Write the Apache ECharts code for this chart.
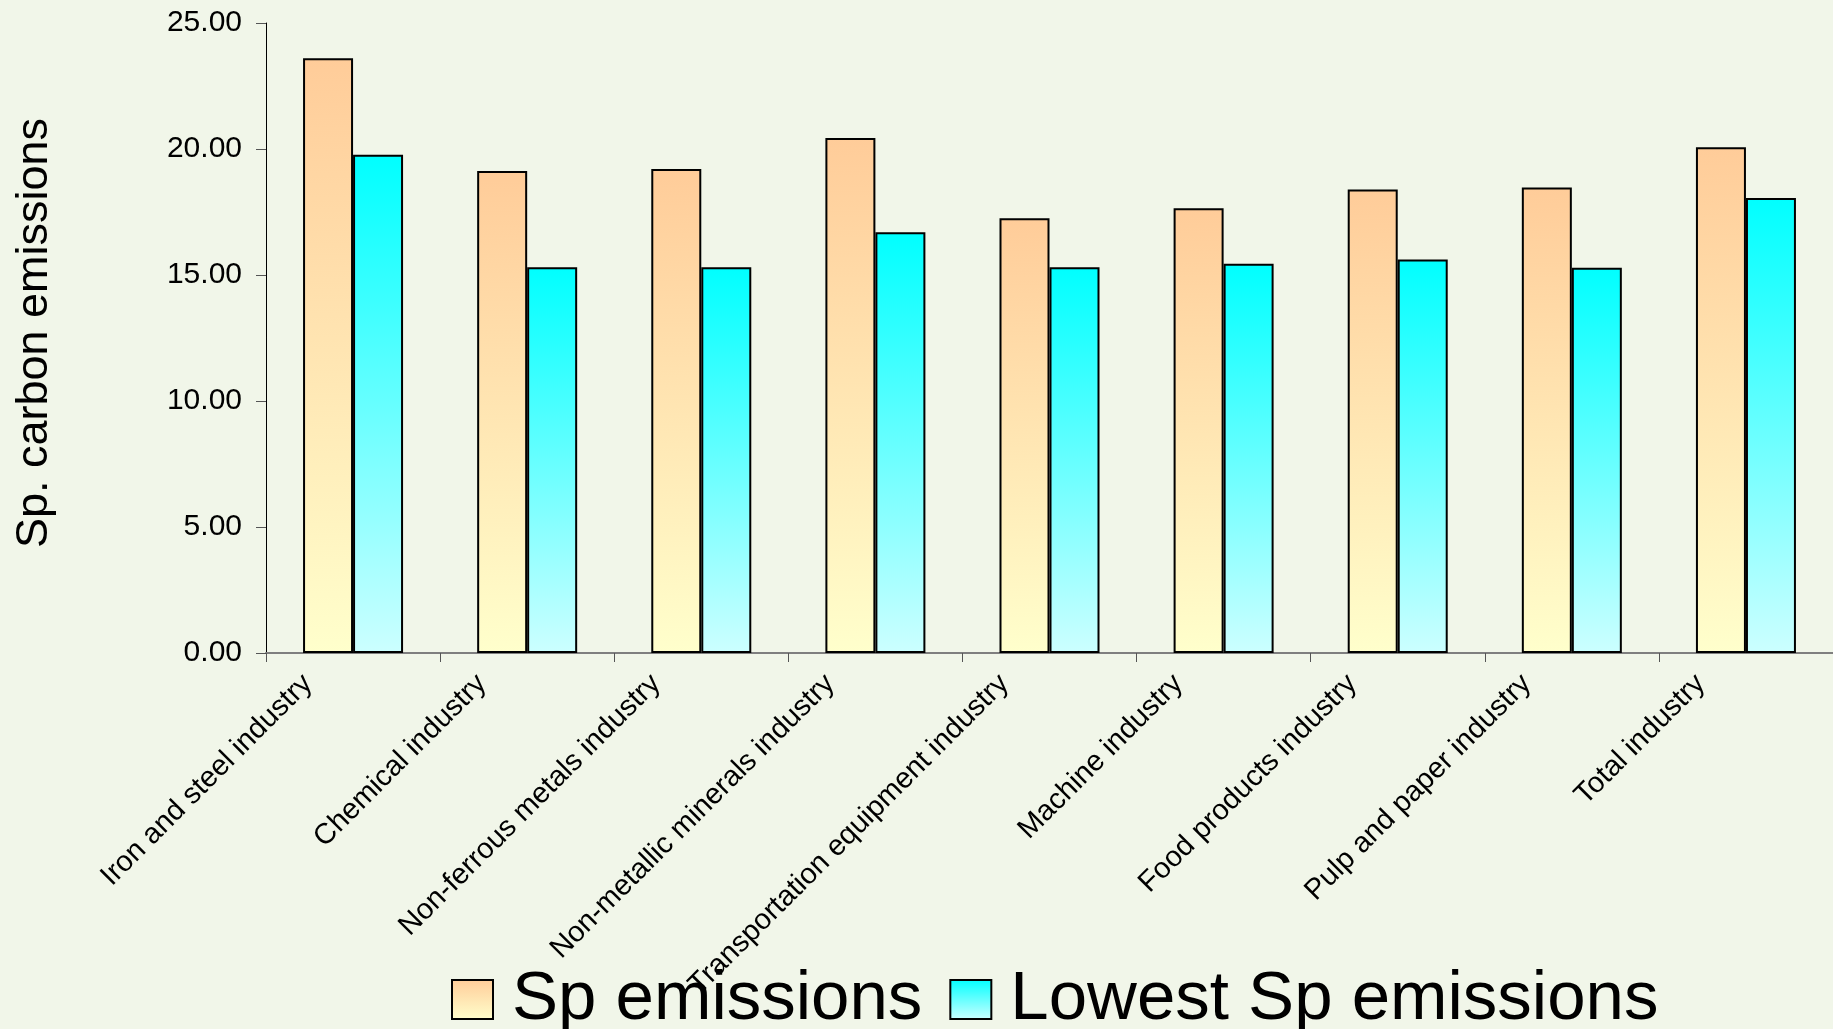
<!DOCTYPE html>
<html>
<head>
<meta charset="utf-8">
<script src="https://cdn.jsdelivr.net/npm/echarts@6/dist/echarts.min.js"></script>
<style>
html,body{margin:0;padding:0;background:#F1F6E9;}
#chart{width:1833px;height:1029px;}
</style>
</head>
<body>
<div id="chart"></div>
<script>
const categories = [
  'Iron and steel industry',
  'Chemical industry',
  'Non-ferrous metals industry',
  'Non-metallic minerals industry',
  'Transportation equipment industry',
  'Machine industry',
  'Food products industry',
  'Pulp and paper industry',
  'Total industry'
];
const spEmissions = [23.60, 19.13, 19.21, 20.44, 17.25, 17.65, 18.39, 18.47, 20.07];
const lowestSpEmissions = [19.77, 15.31, 15.31, 16.70, 15.31, 15.45, 15.62, 15.29, 18.06];
const seriesNames = ['Sp emissions', 'Lowest Sp emissions'];
const yAxisTitle = 'Sp. carbon emissions';

const FONT = '"Liberation Sans", Arial, sans-serif';
const chart = echarts.init(document.getElementById('chart'));

function grad(top, bottom) {
  return new echarts.graphic.LinearGradient(0, 0, 0, 1, [
    { offset: 0, color: top },
    { offset: 1, color: bottom }
  ]);
}

chart.setOption({
  backgroundColor: '#F1F6E9',
  animation: false,
  grid: { left: 266, right: 0, top: 23, bottom: 376, containLabel: false },
  legend: {
    left: 446,
    top: 960,
    icon: 'rect',
    itemWidth: 41,
    itemHeight: 39,
    itemGap: 27,
    textStyle: { fontFamily: FONT, fontSize: 69, color: '#000', padding: [0, 0, 0, 14] },
    data: seriesNames
  },
  xAxis: {
    type: 'category',
    data: categories,
    axisLine: { lineStyle: { color: '#7f7f7f', width: 2 } },
    axisTick: { show: true, length: 9, alignWithLabel: false, lineStyle: { color: '#555', width: 1 } },
    axisLabel: {
      interval: 0,
      rotate: 45,
      margin: -19,
      padding: [0, 64, 0, 0],
      fontFamily: FONT,
      fontSize: 29,
      color: '#000'
    }
  },
  yAxis: {
    type: 'value',
    min: 0,
    max: 25,
    interval: 5,
    name: yAxisTitle,
    nameLocation: 'middle',
    nameRotate: 90,
    nameGap: 209,
    nameTextStyle: { fontFamily: FONT, fontSize: 45, color: '#000', padding: [0, 0, 0, 10] },
    axisLine: { show: true, lineStyle: { color: '#000', width: 1 } },
    axisTick: { show: true, length: 10, lineStyle: { color: '#555', width: 1 } },
    splitLine: { show: false },
    axisLabel: {
      margin: 24,
      fontFamily: FONT,
      fontSize: 30,
      color: '#000',
      formatter: v => v.toFixed(2)
    }
  },
  series: [
    {
      name: seriesNames[0],
      type: 'bar',
      data: spEmissions,
      barWidth: 50,
      barGap: '0%',
      itemStyle: { color: grad('#FFCC99', '#FFFFCC'), borderColor: '#000', borderWidth: 2 }
    },
    {
      name: seriesNames[1],
      type: 'bar',
      data: lowestSpEmissions,
      barWidth: 50,
      barGap: '0%',
      itemStyle: { color: grad('#00FFFF', '#CCFFFF'), borderColor: '#000', borderWidth: 2 }
    }
  ]
});
</script>
</body>
</html>
